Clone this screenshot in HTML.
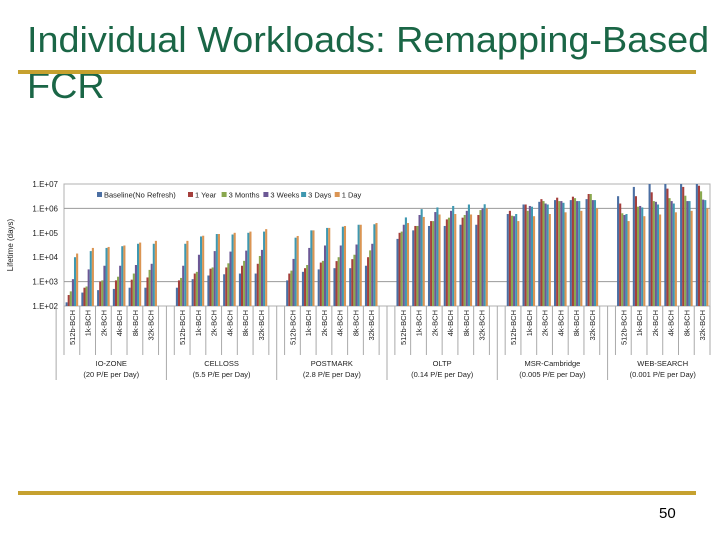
<!DOCTYPE html>
<html><head><meta charset="utf-8">
<style>
html,body{margin:0;padding:0;background:#fff;}
body{width:720px;height:540px;position:relative;overflow:hidden;font-family:"Liberation Sans",Arial,sans-serif;}
.title{position:absolute;left:27px;color:#1a6646;font-size:36px;white-space:nowrap;line-height:1;transform-origin:0 0;transform:scaleX(1.05);}
.rule{position:absolute;left:18px;width:678px;height:4px;background:#c6a12f;}
</style></head>
<body>
<div class="title" style="top:22px;">Individual Workloads: Remapping-Based</div>
<div class="title" style="top:68px;">FCR</div>
<div class="rule" style="top:70px;"></div>
<div class="rule" style="top:491px;"></div>
<div style="position:absolute;left:659px;top:505px;font-size:15px;color:#000;">50</div>
<svg id="chart" width="720" height="540" style="position:absolute;left:0;top:0;" xmlns="http://www.w3.org/2000/svg"></svg>
<script>
const workloads = ["IO-ZONE","CELLOSS","POSTMARK","OLTP","MSR-Cambridge","WEB-SEARCH"];
const rates = ["(20 P/E per Day)","(5.5 P/E per Day)","(2.8 P/E per Day)","(0.14 P/E per Day)","(0.005 P/E per Day)","(0.001 P/E per Day)"];
const configs = ["512b-BCH","1k-BCH","2k-BCH","4k-BCH","8k-BCH","32k-BCH"];
const seriesNames = ["Baseline(No Refresh)","1 Year","3 Months","3 Weeks","3 Days","1 Day"];
const seriesColors = ["#4b6fa3","#a53f3c","#8aa84f","#6c5895","#3f98b0","#db9553"];
const tickLabels = ["1.E+02","1.E+03","1.E+04","1.E+05","1.E+06","1.E+07"];
// log10(lifetime in days) per workload, per config: [baseline,1y,3m,3w,3d,1d]
const ioZone = [[2.15,2.45,2.6,3.1,4.0,4.15],[2.55,2.75,2.8,3.5,4.25,4.38],[2.65,3.0,3.05,3.65,4.38,4.42],[2.7,3.05,3.2,3.65,4.45,4.48],[2.75,3.08,3.33,3.68,4.55,4.6],[2.75,3.17,3.48,3.73,4.55,4.67]];
const celloss = [[2.75,3.05,3.15,3.65,4.55,4.67],[3.1,3.33,3.4,4.1,4.85,4.88],[3.25,3.53,3.58,4.25,4.95,4.95],[3.3,3.58,3.75,4.23,4.93,5.0],[3.33,3.65,3.85,4.27,5.0,5.05],[3.33,3.73,4.05,4.3,5.05,5.15]];
const postmark = [[3.05,3.33,3.45,3.93,4.8,4.87],[3.4,3.55,3.68,4.38,5.1,5.1],[3.5,3.78,3.85,4.48,5.2,5.2],[3.55,3.84,4.0,4.48,5.25,5.28],[3.55,3.92,4.1,4.52,5.33,5.33],[3.65,4.0,4.28,4.55,5.35,5.4]];
const oltp = [[4.75,5.0,5.05,5.33,5.63,5.4],[5.1,5.28,5.28,5.73,5.97,5.65],[5.28,5.48,5.48,5.85,6.04,5.75],[5.28,5.55,5.62,5.9,6.1,5.77],[5.33,5.62,5.73,5.9,6.16,5.75],[5.33,5.73,5.93,6.0,6.17,6.0]];
const msr = [[5.77,5.9,5.7,5.68,5.77,5.48],[6.16,6.16,5.9,6.1,6.07,5.68],[6.27,6.38,6.3,6.2,6.16,5.77],[6.34,6.44,6.3,6.3,6.23,5.84],[6.34,6.48,6.42,6.3,6.3,5.9],[6.38,6.59,6.59,6.34,6.34,6.0]];
const webSearch = [[6.5,6.2,5.8,5.73,5.77,5.48],[6.88,6.5,6.07,6.1,6.04,5.68],[7.0,6.66,6.3,6.27,6.16,5.75],[7.0,6.81,6.42,6.3,6.2,5.84],[7.0,6.88,6.52,6.3,6.3,5.9],[7.0,6.93,6.7,6.36,6.34,6.0]];
const allData = [ioZone,celloss,postmark,oltp,msr,webSearch];

const svg = document.getElementById('chart');
const NS = 'http://www.w3.org/2000/svg';
const X0 = 64, X1 = 710, YTOP = 184, YBOT = 306;
const slots = workloads.length*7-1, slotW = (X1-X0)/slots;
function y(v){ return YBOT - (v-2)/5*(YBOT-YTOP); }
function slotX(g,c){ return X0 + (g*7+c)*slotW; }
function mk(tag, attrs){ const e=document.createElementNS(NS,tag); for(const k in attrs) e.setAttribute(k,attrs[k]); svg.appendChild(e); return e; }

let e = mk('rect',{x:X0,y:YTOP,width:X1-X0,height:YBOT-YTOP,fill:'none',stroke:'#b0b0b0','stroke-width':1});


[3,6].forEach(v=>{
  const l = mk('line',{x1:X0,x2:X1,y1:y(v),y2:y(v),stroke:'#999','stroke-width':1});
  
  
});
tickLabels.forEach((t,i)=>{
  const tx = mk('text',{x:58,y:y(i+2)+3,'text-anchor':'end','font-size':8,fill:'#222'});
  tx.textContent=t;
  
  
});
const yt = mk('text',{x:0,y:0,transform:'translate(13,245) rotate(-90)','text-anchor':'middle','font-size':8,fill:'#222'});
yt.textContent='Lifetime (days)';



const bw = 2.1;
allData.forEach((wl,g)=>{
  wl.forEach((vals,c)=>{
    const cx = slotX(g,c)+slotW/2, start = cx - bw*vals.length/2;
    vals.forEach((v,s)=>{
      const r = mk('rect',{x:start+s*bw,y:y(v),width:bw,height:YBOT-y(v),fill:seriesColors[s]});
      
      
    });
  });
});

let lx = 97;
seriesNames.forEach((n,i)=>{
  const sw = mk('rect',{x:lx,y:192,width:5,height:5,fill:seriesColors[i]});
  
  
  const t = mk('text',{x:lx+7,y:197.5,'font-size':7.5,fill:'#222'});
  t.textContent=n;
  
  
  lx += 9 + n.length*4.1;
});

workloads.forEach((w,g)=>{
  const gl = slotX(g,0), gr = slotX(g,6);
  configs.forEach((c,ci)=>{
    const x = slotX(g,ci);
    const l = mk('line',{x1:x,x2:x,y1:YBOT,y2:355,stroke:'#aaa','stroke-width':1});
    
    
    const t = mk('text',{x:0,y:0,transform:`translate(${x+slotW/2+3},${YBOT+4}) rotate(-90)`,'text-anchor':'end','font-size':7.5,fill:'#222'});
    t.textContent=c;
    
    
  });
  const l2 = mk('line',{x1:gr,x2:gr,y1:YBOT,y2:355,stroke:'#aaa','stroke-width':1});
  
  
  const sep = mk('line',{x1:gl-slotW/2,x2:gl-slotW/2,y1:YBOT,y2:380,stroke:'#aaa','stroke-width':1});
  
  
  const mid=(gl+gr)/2;
  const t1 = mk('text',{x:mid,y:366,'text-anchor':'middle','font-size':7.5,fill:'#222'});
  t1.textContent=w;
  
  
  const t2 = mk('text',{x:mid,y:377,'text-anchor':'middle','font-size':7.5,fill:'#222'});
  t2.textContent=rates[g];
  
  
});
</script>
</body></html>
